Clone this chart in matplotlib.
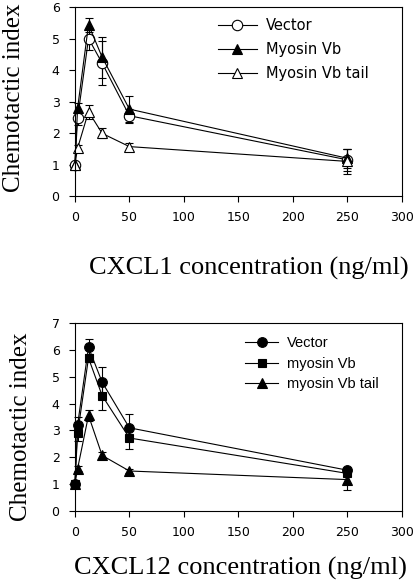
import matplotlib
matplotlib.use("Agg")
import matplotlib.pyplot as plt

# concentrations (ng/ml)
conc = [0, 2.5, 12.5, 25, 50, 250]

# CXCL1 panel
cxcl1_labels = ["Vector", "Myosin Vb", "Myosin Vb tail"]
cxcl1_vector = [1.0, 2.47, 5.0, 4.22, 2.55, 1.15]
cxcl1_vector_err = [0.0, 0.2, 0.35, 0.7, 0.2, 0.35]
cxcl1_myo = [1.0, 2.79, 5.44, 4.41, 2.76, 1.2]
cxcl1_myo_err = [0.0, 0.15, 0.22, 0.65, 0.43, 0.3]
cxcl1_tail = [1.0, 1.52, 2.68, 1.99, 1.57, 1.1]
cxcl1_tail_err = [0.0, 0.1, 0.22, 0.16, 0.13, 0.4]

# CXCL12 panel
cxcl12_labels = ["Vector", "myosin Vb", "myosin Vb tail"]
cxcl12_vector = [1.0, 3.21, 6.1, 4.8, 3.1, 1.52]
cxcl12_vector_err = [0.0, 0.3, 0.3, 0.58, 0.5, 0.1]
cxcl12_myo = [1.0, 2.9, 5.7, 4.3, 2.72, 1.4]
cxcl12_myo_err = [0.0, 0.3, 0.15, 0.53, 0.4, 0.1]
cxcl12_tail = [1.0, 1.58, 3.56, 2.07, 1.49, 1.17]
cxcl12_tail_err = [0.0, 0.1, 0.2, 0.12, 0.08, 0.4]

SERIF = "Liberation Serif"
SANS = "Liberation Sans"


def style_axes(ax, ymax, xlabel, ylab_xy, xlab_xy):
    ax.set_xlim(0, 300)
    ax.set_ylim(0, ymax)
    ax.set_xticks(range(0, 301, 50))
    ax.set_yticks(range(0, ymax + 1))
    ax.tick_params(direction="out", length=4, width=0.8, labelsize=9, pad=7)
    for lab in ax.get_xticklabels() + ax.get_yticklabels():
        lab.set_family("DejaVu Sans")
    for sp in ax.spines.values():
        sp.set_linewidth(0.8)
    ax.set_ylabel("Chemotactic index", family=SERIF, fontsize=18)
    ax.yaxis.set_label_coords(*ylab_xy)
    ax.set_xlabel(xlabel, family=SERIF, fontsize=19)
    ax.xaxis.set_label_coords(*xlab_xy)


def series(ax, y, err, marker, face, ms=7):
    cont = ax.errorbar(conc, y, yerr=err, color="black", lw=0.8, elinewidth=0.8,
                       capsize=3, capthick=0.8, marker=marker, ms=ms,
                       mfc=face, mec="black", mew=0.8, clip_on=False)
    # legend shows only line + marker, no error bar stub
    return cont[0]


fig = plt.figure(figsize=(4.16, 5.87), dpi=100)

# top panel: CXCL1
ax1 = fig.add_axes([0.180, 0.666, 0.786, 0.322])
h1 = [
    series(ax1, cxcl1_vector, cxcl1_vector_err, "o", "white", ms=7.5),
    series(ax1, cxcl1_myo, cxcl1_myo_err, "^", "black", ms=7.5),
    series(ax1, cxcl1_tail, cxcl1_tail_err, "^", "white", ms=7.5),
]
style_axes(ax1, 6, "CXCL1 concentration (ng/ml)", (-0.153, 0.52), (0.532, -0.323))
ax1.legend(h1, cxcl1_labels, loc="upper left", bbox_to_anchor=(0.437, 0.94),
           frameon=False, prop={"family": "DejaVu Sans", "size": 10.5},
           handlelength=2.7, handletextpad=0.6, labelspacing=0.6,
           borderaxespad=0, borderpad=0)

# bottom panel: CXCL12
ax2 = fig.add_axes([0.180, 0.1295, 0.786, 0.320])
h2 = [
    series(ax2, cxcl12_vector, cxcl12_vector_err, "o", "black", ms=7),
    series(ax2, cxcl12_myo, cxcl12_myo_err, "s", "black", ms=6),
    series(ax2, cxcl12_tail, cxcl12_tail_err, "^", "black", ms=6.5),
]
style_axes(ax2, 7, "CXCL12 concentration (ng/ml)", (-0.131, 0.447), (0.505, -0.245))
ax2.legend(h2, cxcl12_labels, loc="upper left", bbox_to_anchor=(0.52, 0.93),
           frameon=False, prop={"family": SANS, "size": 10.5},
           handlelength=2.3, handletextpad=0.6, labelspacing=0.45,
           borderaxespad=0, borderpad=0)

fig.savefig("out.png", dpi=100)
